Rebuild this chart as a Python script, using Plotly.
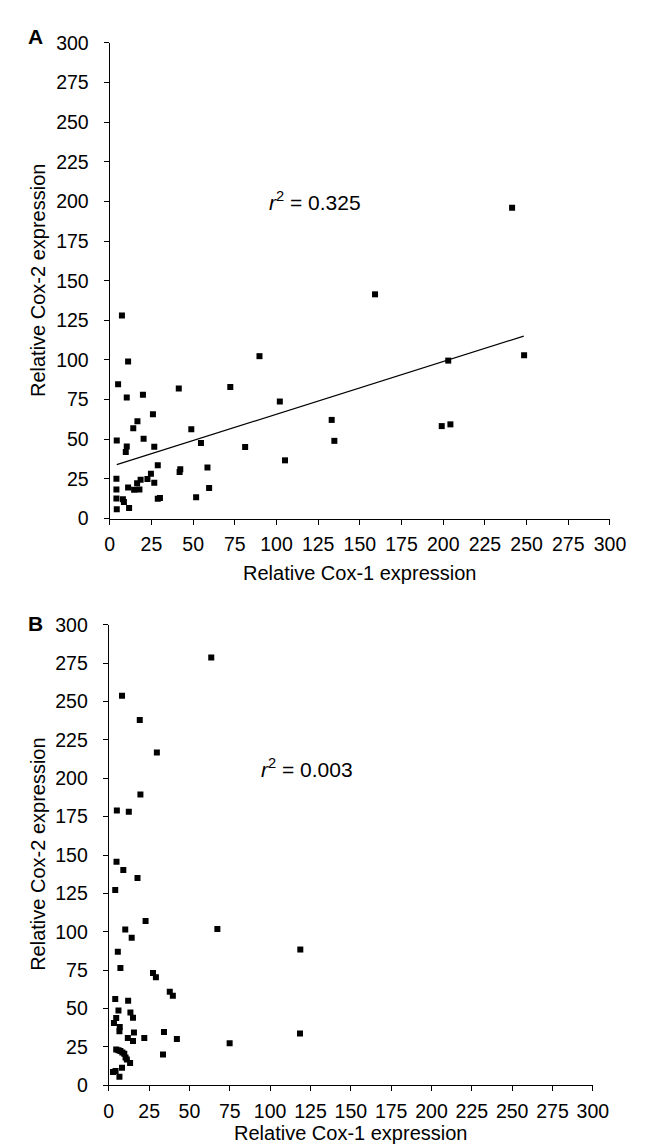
import plotly.graph_objects as go

# Panel A data (Relative Cox-1 vs Cox-2 expression)
a_cox1 = [7.3, 11.0, 5.0, 10.2, 19.9, 25.9, 16.6, 14.1, 4.2, 20.3, 10.2, 9.6, 26.7, 28.8,
          4.0, 4.0, 4.0, 4.2, 7.9, 8.5, 11.6, 11.0, 14.6, 16.4, 17.8, 18.5, 22.6, 24.7,
          26.7, 28.8, 30.1, 41.4, 48.9, 42.3, 41.9, 54.7, 58.6, 59.6, 51.8, 72.3, 89.8,
          81.2, 102.0, 105.1, 159.1, 241.3, 133.1, 134.7, 203.0, 248.5, 199.1, 204.3]
a_cox2 = [128.0, 99.1, 84.7, 76.3, 78.1, 65.7, 61.4, 56.9, 49.2, 50.3, 45.5, 42.0, 45.3, 33.6,
          25.1, 18.3, 12.7, 5.8, 12.1, 10.5, 6.6, 19.5, 18.1, 22.3, 18.3, 24.5, 24.9, 28.2,
          22.6, 12.4, 13.0, 82.0, 56.3, 31.1, 29.3, 47.6, 32.2, 19.2, 13.4, 82.9, 102.4,
          45.1, 73.8, 36.7, 141.4, 196.0, 62.2, 49.0, 99.6, 103.0, 58.3, 59.4]
a_fit_x = [4.2, 248.3]
a_fit_slope = 0.332
a_fit_intercept = 32.6
a_r2_label = "0.325"

# Panel B data
b_cox1 = [63.5, 8.2, 19.2, 29.8, 19.6, 5.0, 12.4, 4.8, 9.0, 17.8, 4.0, 22.8, 10.2, 67.3,
          14.2, 5.6, 118.7, 7.2, 27.4, 29.2, 37.8, 39.7, 4.0, 12.0, 6.0, 13.4, 15.0, 4.6,
          3.2, 6.8, 6.6, 15.6, 34.2, 11.8, 15.0, 22.0, 42.2, 74.9, 118.5, 4.6, 6.0, 7.2,
          8.4, 9.6, 10.4, 11.2, 13.2, 33.6, 8.2, 2.6, 4.2, 6.6]
b_cox2 = [278.8, 253.8, 238.0, 216.8, 189.5, 179.0, 178.2, 145.6, 140.2, 135.1, 127.2, 107.0,
          101.5, 101.7, 96.1, 87.0, 88.4, 76.3, 73.1, 70.3, 60.9, 58.2, 56.1, 55.0, 48.6,
          47.3, 43.9, 43.7, 40.5, 37.9, 35.2, 34.3, 34.7, 30.7, 28.8, 30.7, 30.1, 27.3,
          33.7, 23.2, 22.8, 22.2, 21.3, 20.5, 18.1, 16.8, 14.5, 20.0, 11.3, 8.5, 9.2, 5.5]
b_r2_label = "0.003"

tick_vals = list(range(0, 301, 25))
tick_text = [str(v) for v in tick_vals]
x_title = "Relative Cox-1 expression"
y_title = "Relative Cox-2 expression"
panel_labels = ["A", "B"]

FONT = "Liberation Sans, Arial, Helvetica, sans-serif"
W, H = 647, 1148
FS = 19.5

fig = go.Figure()
marker = dict(symbol="square", size=6, color="black")
fig.add_trace(go.Scatter(x=a_cox1, y=a_cox2, mode="markers", marker=marker,
                         xaxis="x", yaxis="y", showlegend=False))
fig.add_trace(go.Scatter(x=a_fit_x, y=[a_fit_slope * v + a_fit_intercept for v in a_fit_x],
                         mode="lines", line=dict(color="black", width=1.2),
                         xaxis="x", yaxis="y", showlegend=False))
fig.add_trace(go.Scatter(x=b_cox1, y=b_cox2, mode="markers", marker=marker,
                         xaxis="x2", yaxis="y2", showlegend=False))

def xax(domain, anchor):
    return dict(domain=domain, anchor=anchor, range=[0, 300], tickmode="array",
                tickvals=tick_vals, ticktext=tick_text, showgrid=False, zeroline=False,
                showline=True, linecolor="black", linewidth=1.3, ticks="outside",
                ticklen=5, tickwidth=1.3, tickcolor="black", ticklabelstandoff=3,
                tickfont=dict(size=FS, color="black"))

def yax(domain, anchor):
    return dict(domain=domain, anchor=anchor, range=[0, 300], tickmode="array",
                tickvals=tick_vals, ticktext=tick_text, showgrid=False, zeroline=False,
                showline=True, linecolor="black", linewidth=1.3, ticks="outside",
                ticklen=5, tickwidth=1.3, tickcolor="black", ticklabelstandoff=11,
                tickfont=dict(size=FS, color="black"))

def label(text, x, y, **kw):
    d = dict(text=text, x=x, y=y, xref="paper", yref="paper", showarrow=False,
             xanchor="center", yanchor="middle", font=dict(size=20, color="black"))
    d.update(kw)
    return d

fig.update_layout(
    width=W, height=H,
    margin=dict(l=0, r=0, t=0, b=0),
    paper_bgcolor="white", plot_bgcolor="white",
    font=dict(family=FONT, color="black"),
    xaxis=xax([100 / W, 617 / W], "y"),
    yaxis=yax([1 - 509.3 / H, 1 - 24.3 / H], "x"),
    xaxis2=xax([99 / W, 599.3 / W], "y2"),
    yaxis2=yax([1 - 1087 / H, 1 - 617.7 / H], "x2"),
    annotations=[
        dict(text="<i>r</i><sup>2</sup> = " + a_r2_label, x=123.1, y=200.5, xref="x", yref="y",
             showarrow=False, xanchor="center", yanchor="middle",
             font=dict(size=21, color="black")),
        dict(text="<i>r</i><sup>2</sup> = " + b_r2_label, x=123.0, y=206.5, xref="x2", yref="y2",
             showarrow=False, xanchor="center", yanchor="middle",
             font=dict(size=21, color="black")),
        label("<b>" + panel_labels[0] + "</b>", 23 / W, 1 - 18 / H, font=dict(size=21, color="black")),
        label("<b>" + panel_labels[1] + "</b>", 23 / W, 1 - 616 / H, font=dict(size=21, color="black")),
        label(x_title, 358 / W, 1 - 565 / H),
        label(x_title, 349 / W, 1 - 1136 / H),
        label(y_title, 26 / W, 1 - 267 / H, textangle=-90),
        label(y_title, 26 / W, 1 - 852 / H, textangle=-90),
    ],
)

fig.write_html("out.html")
